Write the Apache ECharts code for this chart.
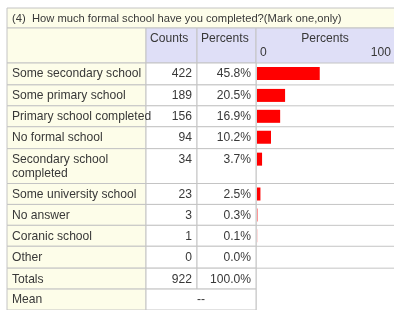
<!DOCTYPE html>
<html>
<head>
<meta charset="utf-8">
<script src="https://cdn.jsdelivr.net/npm/echarts@6/dist/echarts.min.js"></script>
<style>
  html, body { margin: 0; padding: 0; background: #fff; }
  #main { width: 394px; height: 310px; }
</style>
</head>
<body>
<div id="main"></div>
<script>
// question + table data
var title = '(4)  How much formal school have you completed?(Mark one,only)';
var categories = ['Some secondary school', 'Some primary school', 'Primary school completed', 'No formal school',
    'Secondary school\ncompleted', 'Some university school', 'No answer', 'Coranic school', 'Other'];
var counts = [422, 189, 156, 94, 34, 23, 3, 1, 0];
var percents = [45.8, 20.5, 16.9, 10.2, 3.7, 2.5, 0.3, 0.1, 0.0];
var totalCount = 922;
var totalPercent = 100.0;
var meanText = '--';
var axisTicks = [0, 100];

// layout (pixels)
var X_LEFT = 7, X_COUNTS = 146, X_PCT = 197, X_CHART = 256, X_RIGHT = 400;
var Y_TITLE = 8, Y_HEAD = 28, Y_BODY = 63;
var rowHeights = [22, 21, 21, 22, 35, 21, 21, 21, 22, 21, 21];

var BORDER = '#c4c4c4';
var YELLOW = '#fdfde9';
var LAVENDER = '#dfdff7';
var TEXT = '#383838';
var FONT = 'Liberation Sans, Arial, sans-serif';
var FS = 12.1;
var FS_TITLE = 11.2;

var rowTops = [];
var acc = 0;
for (var i = 0; i < rowHeights.length; i++) {
    rowTops.push(acc);
    acc += rowHeights[i];
}
var bodyHeight = acc;

// rows: data rows + totals + mean
var rows = [];
for (var i = 0; i < categories.length; i++) {
    rows.push({ value: [percents[i], i], label: categories[i], count: String(counts[i]), pct: percents[i].toFixed(1) + '%', bar: true });
}
rows.push({ value: [0, categories.length], label: 'Totals', count: String(totalCount), pct: totalPercent.toFixed(1) + '%', bar: false });
rows.push({ value: [0, categories.length + 1], label: 'Mean', count: '', pct: '', mean: meanText, bar: false });

function txt(x, y, s, align) {
    return {
        type: 'text',
        style: { x: x, y: y, text: s, fill: TEXT, font: FS + 'px ' + FONT, align: align || 'left', verticalAlign: 'top', lineHeight: 14 }
    };
}

function renderRow(params, api) {
    var i = params.dataIndex;
    var r = rows[i];
    var top = api.coord([0, rowTops[i]])[1];
    var bot = api.coord([0, rowTops[i] + rowHeights[i]])[1];
    var h = bot - top;
    var x0 = api.coord([0, 0])[0];
    var kids = [];
    kids.push({ type: 'rect', shape: { x: X_LEFT, y: top, width: X_COUNTS - X_LEFT, height: h }, style: { fill: YELLOW, stroke: BORDER, lineWidth: 1 } });
    if (r.mean !== undefined) {
        kids.push({ type: 'rect', shape: { x: X_COUNTS, y: top, width: X_CHART - X_COUNTS, height: h }, style: { fill: '#fff', stroke: BORDER, lineWidth: 1 } });
        kids.push(txt((X_COUNTS + X_CHART) / 2, top + 4, r.mean, 'center'));
    } else {
        kids.push({ type: 'rect', shape: { x: X_COUNTS, y: top, width: X_PCT - X_COUNTS, height: h }, style: { fill: '#fff', stroke: BORDER, lineWidth: 1 } });
        kids.push({ type: 'rect', shape: { x: X_PCT, y: top, width: X_CHART - X_PCT, height: h }, style: { fill: '#fff', stroke: BORDER, lineWidth: 1 } });
        kids.push(txt(X_PCT - 5, top + 4, r.count, 'right'));
        kids.push(txt(X_CHART - 5, top + 4, r.pct, 'right'));
    }
    kids.push(txt(X_LEFT + 5, top + 4, r.label, 'left'));
    if (r.bar) {
        kids.push({ type: 'line', shape: { x1: X_CHART, y1: bot, x2: X_RIGHT, y2: bot }, style: { stroke: BORDER, lineWidth: 1 } });
        var xEnd = api.coord([api.value(0), 0])[0];
        if (xEnd - x0 > 0) {
            kids.push({ type: 'rect', shape: { x: x0 + 1, y: top + 4, width: xEnd - x0, height: 13 }, style: { fill: '#ff0000' } });
        }
    }
    return { type: 'group', children: kids };
}

var myChart = echarts.init(document.getElementById('main'), null, { renderer: 'canvas' });

var option = {
    animation: false,
    backgroundColor: '#fff',
    grid: { left: X_CHART, top: Y_BODY, width: 140, height: bodyHeight, containLabel: false },
    xAxis: {
        type: 'value', position: 'top', min: axisTicks[0], max: axisTicks[1], interval: 100,
        axisLine: { show: false }, axisTick: { show: false }, splitLine: { show: false },
        axisLabel: { show: true, margin: 4, color: TEXT, fontSize: FS, fontFamily: FONT, alignMinLabel: 'left', alignMaxLabel: 'right', padding: [0, 2, 0, 4] }
    },
    yAxis: { type: 'value', inverse: true, min: 0, max: bodyHeight, show: false },
    graphic: [
        { type: 'rect', z: 0, shape: { x: X_LEFT, y: Y_TITLE, width: X_RIGHT - X_LEFT, height: Y_HEAD - Y_TITLE }, style: { fill: YELLOW, stroke: BORDER, lineWidth: 1 } },
        { type: 'text', z: 1, style: { x: X_LEFT + 5, y: (Y_TITLE + Y_HEAD) / 2 + 1, text: title, fill: TEXT, font: FS_TITLE + 'px ' + FONT, verticalAlign: 'middle' } },
        { type: 'rect', z: 0, shape: { x: X_LEFT, y: Y_HEAD, width: X_COUNTS - X_LEFT, height: Y_BODY - Y_HEAD }, style: { fill: YELLOW, stroke: BORDER, lineWidth: 1 } },
        { type: 'rect', z: 0, shape: { x: X_COUNTS, y: Y_HEAD, width: X_PCT - X_COUNTS, height: Y_BODY - Y_HEAD }, style: { fill: LAVENDER, stroke: BORDER, lineWidth: 1 } },
        { type: 'rect', z: 0, shape: { x: X_PCT, y: Y_HEAD, width: X_CHART - X_PCT, height: Y_BODY - Y_HEAD }, style: { fill: LAVENDER, stroke: BORDER, lineWidth: 1 } },
        { type: 'rect', z: 0, shape: { x: X_CHART, y: Y_HEAD, width: X_RIGHT - X_CHART, height: Y_BODY - Y_HEAD }, style: { fill: LAVENDER, stroke: BORDER, lineWidth: 1 } },
        { type: 'text', z: 1, style: { x: X_COUNTS + 4, y: Y_HEAD + 5, text: 'Counts', fill: TEXT, font: FS + 'px ' + FONT, verticalAlign: 'top' } },
        { type: 'text', z: 1, style: { x: X_PCT + 4, y: Y_HEAD + 5, text: 'Percents', fill: TEXT, font: FS + 'px ' + FONT, verticalAlign: 'top' } },
        { type: 'text', z: 1, style: { x: 325, y: Y_HEAD + 5, text: 'Percents', fill: TEXT, font: FS + 'px ' + FONT, align: 'center', verticalAlign: 'top' } },
        { type: 'line', z: 1, shape: { x1: X_CHART, y1: Y_BODY, x2: X_CHART, y2: 310 }, style: { stroke: BORDER, lineWidth: 1 } }
    ],
    series: [{
        type: 'custom',
        renderItem: renderRow,
        data: rows.map(function (r) { return r.value; }),
        z: 2
    }]
};

myChart.setOption(option);
</script>
</body>
</html>
